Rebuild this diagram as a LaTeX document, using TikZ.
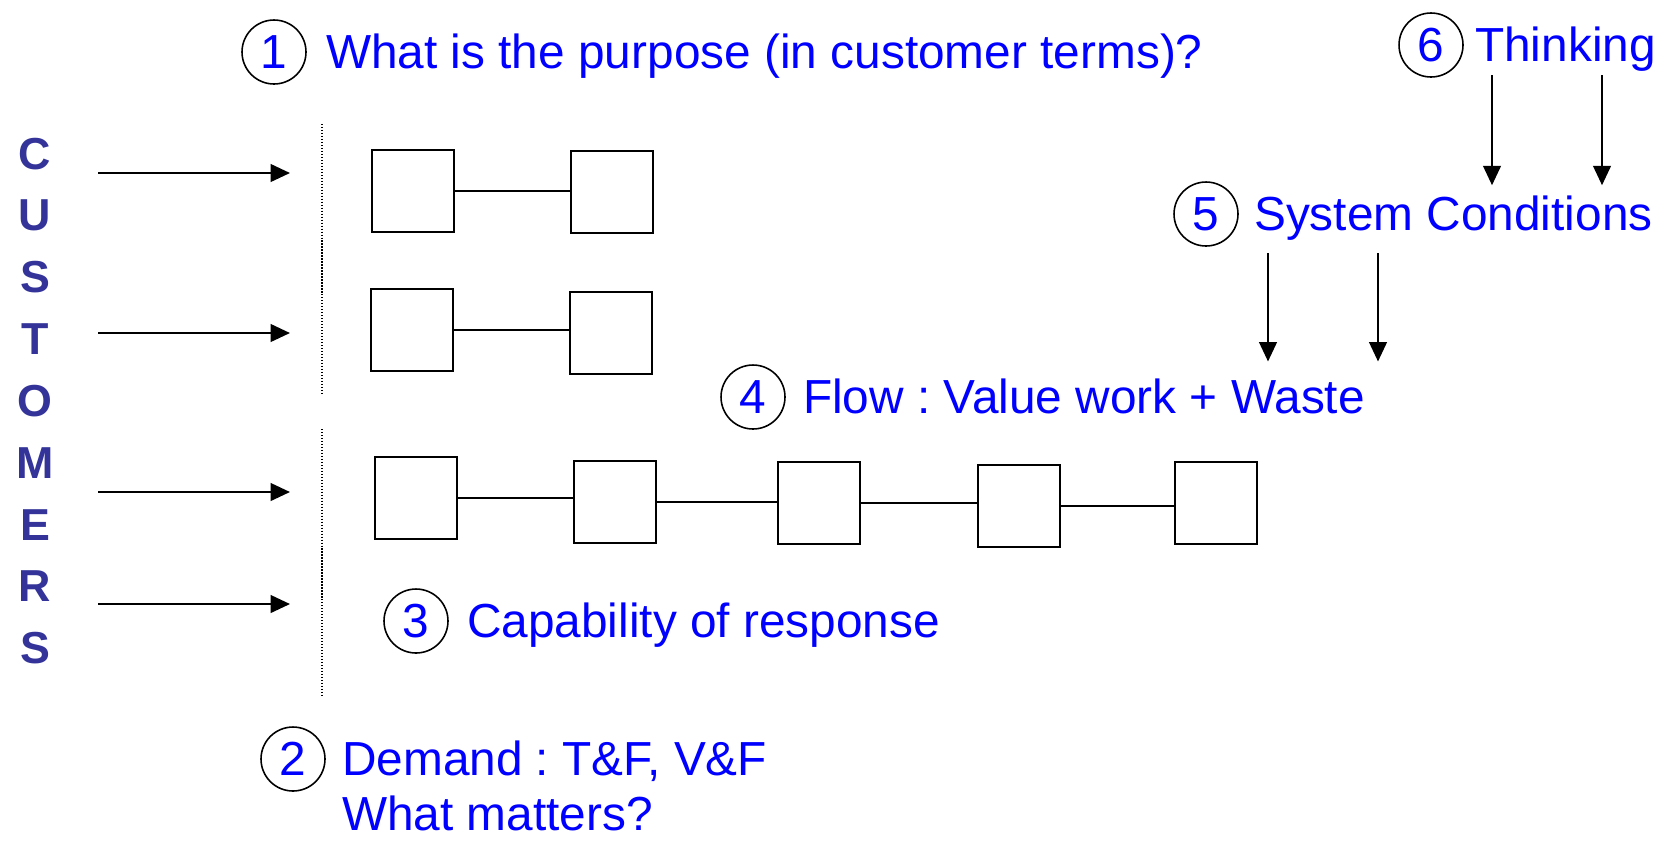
\documentclass[tikz,border=0pt]{standalone}
\usepackage{fontspec}
\setmainfont{Liberation Sans}
\usetikzlibrary{arrows.meta,positioning}

\definecolor{labelblue}{RGB}{0,0,255}
\definecolor{custblue}{RGB}{51,51,153}
\newcommand{\lblfont}{\fontsize{27.2}{31.2}\selectfont\frenchspacing}
\newcommand{\custfont}{\fontsize{25.5}{35.2}\selectfont\bfseries}

\begin{document}
\begin{tikzpicture}[
    x=0.02cm, y=-0.02cm,
    >={Triangle[length=11pt,width=10pt]},
    num/.style={circle, draw, line width=0.9pt, minimum size=1.28cm, inner sep=0pt, text=labelblue, font=\lblfont},
    lbl/.style={inner sep=0pt, text=labelblue, font=\lblfont, align=left},
    stage/.style={rectangle, draw, line width=1.3pt, minimum size=1.64cm, inner sep=0pt},
    link/.style={line width=1.2pt},
    feed/.style={->, line width=1.3pt},
    boundary/.style={line width=0.7pt, dash pattern=on 0.7pt off 1pt}
    ]

    \useasboundingbox (0,0) rectangle (1672,843);

    % Customers down the left side
    \node[text=custblue, font=\custfont, align=center, inner sep=0pt] (customers) at (35,401) {C\\U\\S\\T\\O\\M\\E\\R\\S};

    % Demand arriving from customers
    \coordinate (in1) at (98,173);
    \coordinate (in2) at (98,333);
    \coordinate (in3) at (98,492);
    \coordinate (in4) at (98,604);
    \draw[feed] (in1) -- ++(192,0);
    \draw[feed] (in2) -- ++(192,0);
    \draw[feed] (in3) -- ++(192,0);
    \draw[feed] (in4) -- ++(192,0);

    % Boundary of the system
    \coordinate (edge1) at (322,124);
    \coordinate (edge2) at (322,429);
    \draw[boundary] (edge1) -- ++(0,270);
    \draw[boundary] (edge2) -- ++(0,268);

    % Two short flows
    \node[stage] (a1) at (413,191) {};
    \node[stage] (b1) at (612,192) {};
    \draw[link] (a1.east) -- (a1.east -| b1.west);
    \node[stage] (a2) at (412,330) {};
    \node[stage] (b2) at (611,333) {};
    \draw[link] (a2.east) -- (a2.east -| b2.west);

    % Long flow
    \node[stage] (s1) at (416,498) {};
    \node[stage] (s2) at (615,502) {};
    \node[stage] (s3) at (819,503) {};
    \node[stage] (s4) at (1019,506) {};
    \node[stage] (s5) at (1216,503) {};
    \draw[link] (s1.east) -- (s1.east -| s2.west);
    \draw[link] (s2.east) -- (s2.east -| s3.west);
    \draw[link] (s3.east) -- (s3.east -| s4.west);
    \draw[link] (s4.east) -- (s4.east -| s5.west);

    % Numbered questions
    \node[num] (n1) at (274,52) {1};
    \node[lbl, base right=0.38cm of n1] (purpose) {What is the purpose (in customer terms)?};

    \node[num] (n2) at (293,759) {2};
    \node[lbl, base right=0.32cm of n2, yshift=-31.2pt] (demand) {Demand : T\&F, V\&F\\What matters?};

    \node[num] (n3) at (416,621) {3};
    \node[lbl, base right=0.36cm of n3] (capability) {Capability of response};

    \node[num] (n4) at (753,397) {4};
    \node[lbl, base right=0.34cm of n4] (flow) {Flow : Value work + Waste};

    \node[num] (n5) at (1206,214) {5};
    \node[lbl, base right=0.3cm of n5] (system) {System Conditions};

    \node[num] (n6) at (1431,45) {6};
    \node[lbl, base right=0.22cm of n6] (thinking) {Thinking};

    % Thinking drives system conditions, which drive flow
    \coordinate (think-a) at (1492,75);
    \coordinate (think-b) at (1602,75);
    \draw[feed, shorten >=0.2cm] (think-a) -- (think-a |- system.north);
    \draw[feed, shorten >=0.2cm] (think-b) -- (think-b |- system.north);

    \coordinate (cond-a) at (1268,253);
    \coordinate (cond-b) at (1378,253);
    \draw[feed, shorten >=0.34cm] (cond-a) -- (cond-a |- flow.north);
    \draw[feed, shorten >=0.34cm] (cond-b) -- (cond-b |- flow.north);

  \end{tikzpicture}
\end{document}
